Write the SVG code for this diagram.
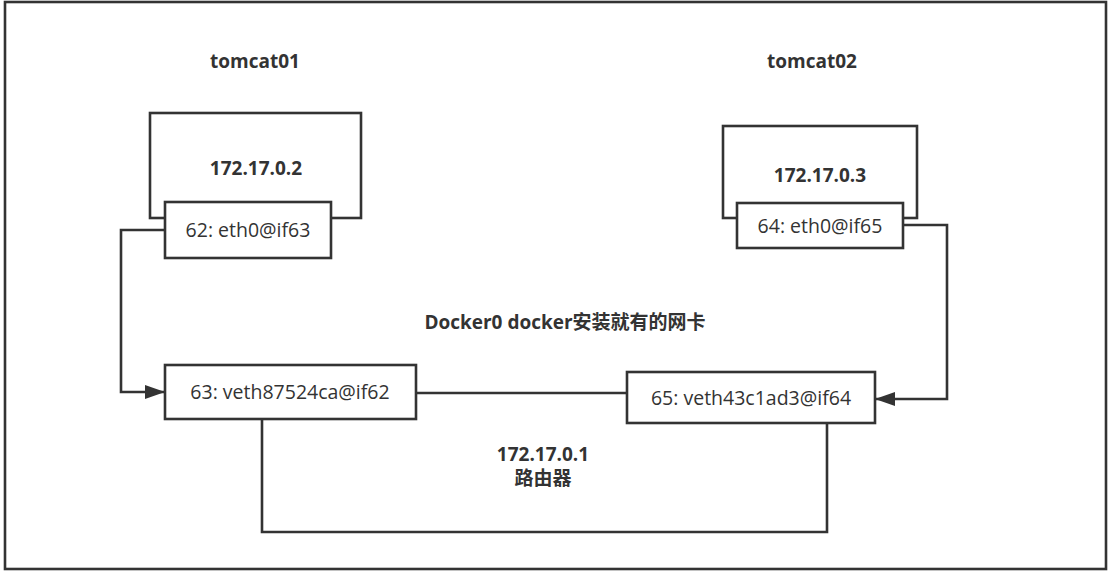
<svg xmlns="http://www.w3.org/2000/svg" width="1110" height="575" viewBox="0 0 1110 575">
<style>
  .box{fill:#fff;stroke:#333;stroke-width:2.6}
  .line{fill:none;stroke:#333;stroke-width:2.6}
  .t{font-family:"Open Sans","Noto Sans CJK SC","Noto Sans",sans-serif;fill:#333;text-anchor:middle}
  .b{font-weight:bold;font-size:19px}
  .n{font-size:19.5px}
</style>
<defs>
  <marker id="arrBig" viewBox="0 0 20 14" refX="20" refY="7" markerWidth="20" markerHeight="14" markerUnits="userSpaceOnUse" orient="auto">
    <path d="M0,0 L20,7 L0,14 z" fill="#333"/>
  </marker>
</defs>
<rect x="0" y="0" width="1110" height="575" fill="#fff"/>
<rect id="frame" x="5" y="2" width="1101" height="567" fill="none" stroke="#333" stroke-width="2.6"/>

<text class="t b" x="255" y="68">tomcat01</text>
<text class="t b" x="812" y="68">tomcat02</text>
<text class="t b" x="565" y="329">Docker0 docker安装就有的网卡</text>

<g id="connectors">
  <path class="line" d="M165,230 H121 V392 H165" marker-end="url(#arrBig)"/>
  <path class="line" d="M903,225 H947 V399 H875" marker-end="url(#arrBig)"/>
  <path class="line" d="M416,393 H627"/>
  <path class="line" d="M262,419 V532 H827 V423"/>
</g>

<g id="tomcat01">
  <rect class="box" x="150" y="113" width="211" height="105"/>
  <text class="t b" x="256" y="175">172.17.0.2</text>
</g>
<g id="eth0-if63">
  <rect class="box" x="165" y="202" width="166" height="56"/>
  <text class="t n" x="248" y="237">62: eth0@if63</text>
</g>
<g id="tomcat02">
  <rect class="box" x="723" y="126" width="194" height="92"/>
  <text class="t b" x="820" y="182">172.17.0.3</text>
</g>
<g id="eth0-if65">
  <rect class="box" x="737" y="203" width="166" height="45"/>
  <text class="t n" x="820" y="233">64: eth0@if65</text>
</g>
<g id="veth87524ca">
  <rect class="box" x="165" y="365" width="251" height="54"/>
  <text class="t n" x="290" y="399">63: veth87524ca@if62</text>
</g>
<g id="veth43c1ad3">
  <rect class="box" x="627" y="372" width="248" height="51"/>
  <text class="t n" x="751" y="405">65: veth43c1ad3@if64</text>
</g>
<g id="router">
  <text class="t b" x="543" y="461">172.17.0.1</text>
  <text class="t b" x="543" y="485">路由器</text>
</g>
</svg>
